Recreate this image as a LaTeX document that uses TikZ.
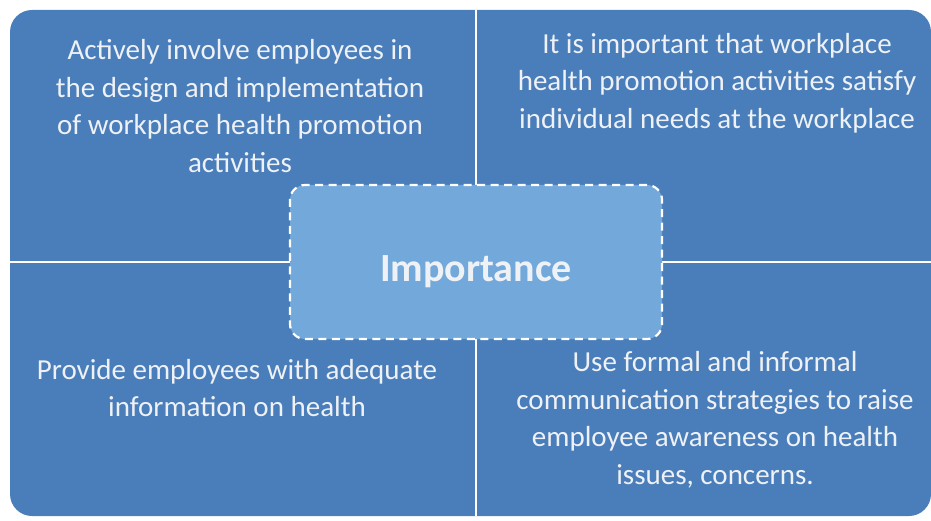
\documentclass[tikz,border=0pt]{standalone}
\usepackage{fontspec}
\setmainfont{Carlito}
\usepackage{xcolor}
\usepackage{tikz}
\usetikzlibrary{positioning}

\definecolor{blockblue}{HTML}{4A7EBA}
\definecolor{hubblue}{HTML}{72A8DA}
\definecolor{softwhite}{HTML}{EEF1F5}

\begin{document}
\begin{tikzpicture}[x=1pt, y=-1pt,
    block/.style={fill=blockblue, rounded corners=22pt},
    divider/.style={draw=white, line width=2pt},
    hub/.style={rectangle, draw=white, dash pattern=on 8pt off 5.5pt, line width=2.2pt,
        fill=hubblue, rounded corners=15pt, minimum width=372pt, minimum height=154pt,
        text height=46pt, text depth=8pt,
        text=softwhite, font=\fontsize{40}{48}\selectfont\bfseries},
    point/.style={text=softwhite, align=center, inner sep=0pt,
        font=\fontsize{29}{37.5}\selectfont}
]
    \useasboundingbox (0,0) rectangle (931,521);

    % background blocks
    \path[block] (10,10) rectangle (931,516);
    \draw[divider] (476,10) -- (476,516);
    \draw[divider] (10,262) -- (931,262);

    % centre
    \node[hub] (hub) at (476,262) {Importance};

    % the four points
    \node[point] (tl) at (240,106) {Actively involve employees in\\the design and implementation\\of workplace health promotion\\activities};
    \node[point] (tr) at (717,83) {It is important that workplace\\health promotion activities satisfy\\individual needs at the workplace};
    \node[point] (bl) at (237,388) {Provide employees with adequate\\information on health};
    \node[point] (br) at (715,420) {Use formal and informal\\communication strategies to raise\\employee awareness on health\\issues, concerns.};
\end{tikzpicture}
\end{document}
